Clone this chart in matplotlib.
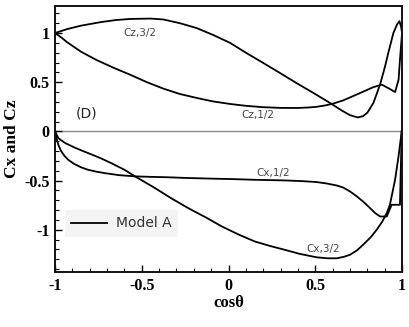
import matplotlib
matplotlib.use("Agg")
import matplotlib.pyplot as plt
from matplotlib.ticker import MultipleLocator

# ---- data ----
cz32_x = [-1.0, -0.93, -0.85, -0.74, -0.65, -0.568, -0.45, -0.376, -0.28, -0.183, -0.088, 0.009, 0.10, 0.20, 0.30, 0.393, 0.49, 0.585, 0.65, 0.70, 0.745, 0.775, 0.80, 0.835, 0.873, 0.902, 0.921, 0.95, 0.972, 0.985, 0.995, 1.0]
cz32_y = [1.0, 1.04, 1.075, 1.11, 1.132, 1.143, 1.147, 1.138, 1.10, 1.05, 0.98, 0.90, 0.80, 0.696, 0.59, 0.49, 0.39, 0.289, 0.215, 0.165, 0.142, 0.155, 0.19, 0.289, 0.475, 0.66, 0.80, 1.0, 1.09, 1.12, 1.06, 1.0]

cz12_x = [-1.0, -0.96, -0.933, -0.85, -0.76, -0.66, -0.568, -0.47, -0.376, -0.28, -0.183, -0.09, 0.009, 0.10, 0.20, 0.30, 0.393, 0.46, 0.508, 0.56, 0.604, 0.66, 0.70, 0.758, 0.835, 0.883, 0.921, 0.96, 0.98, 0.988, 1.0]
cz12_y = [1.0, 0.95, 0.91, 0.81, 0.725, 0.645, 0.577, 0.50, 0.435, 0.38, 0.34, 0.305, 0.279, 0.26, 0.246, 0.239, 0.238, 0.243, 0.25, 0.265, 0.283, 0.315, 0.345, 0.39, 0.45, 0.475, 0.44, 0.40, 0.526, 0.73, 1.0]

cx12_x = [-1.0, -0.99, -0.98, -0.965, -0.945, -0.923, -0.89, -0.85, -0.81, -0.76, -0.71, -0.63, -0.539, -0.45, -0.355, -0.232, -0.10, 0.026, 0.153, 0.316, 0.42, 0.508, 0.567, 0.624, 0.66, 0.70, 0.739, 0.78, 0.816, 0.845, 0.873, 0.912, 0.94, 0.988, 0.998]
cx12_y = [0.0, -0.08, -0.14, -0.2, -0.25, -0.29, -0.33, -0.365, -0.39, -0.41, -0.425, -0.445, -0.457, -0.462, -0.466, -0.474, -0.48, -0.485, -0.492, -0.498, -0.505, -0.515, -0.53, -0.55, -0.57, -0.61, -0.66, -0.72, -0.78, -0.83, -0.865, -0.865, -0.746, -0.746, 0.0]

cx32_x = [-1.0, -0.98, -0.942, -0.88, -0.81, -0.74, -0.673, -0.60, -0.539, -0.424, -0.33, -0.232, -0.13, -0.039, 0.06, 0.153, 0.24, 0.316, 0.41, 0.508, 0.57, 0.624, 0.665, 0.70, 0.74, 0.777, 0.82, 0.854, 0.885, 0.912, 0.93, 0.96, 0.98, 0.998]
cx32_y = [0.0, -0.07, -0.118, -0.17, -0.22, -0.27, -0.325, -0.39, -0.457, -0.576, -0.68, -0.78, -0.875, -0.966, -1.05, -1.12, -1.165, -1.20, -1.245, -1.28, -1.29, -1.29, -1.275, -1.254, -1.21, -1.15, -1.075, -1.0, -0.92, -0.83, -0.746, -0.49, -0.25, 0.0]

curve_labels = ["Cz,3/2", "Cz,1/2", "Cx,1/2", "Cx,3/2"]
label_x = [-0.51, 0.17, 0.257, 0.545]
label_y = [1.0, 0.17, -0.42, -1.197]

xticks = [-1, -0.5, 0, 0.5, 1]
yticks = [-1, -0.5, 0, 0.5, 1]
xtick_labels = ["-1", "-0.5", "0", "0.5", "1"]
ytick_labels = ["-1", "-0.5", "0", "0.5", "1"]

fig = plt.figure(figsize=(4.09, 3.27), dpi=100)
ax = fig.add_axes([0.1345, 0.168, 0.983 - 0.1345, 0.9817 - 0.168])

ax.axhline(0, color="#8c8c8c", lw=1.0, zorder=1)
lw = 1.3
line, = ax.plot(cz32_x, cz32_y, color="black", lw=lw, label="Model A")
ax.plot(cz12_x, cz12_y, color="black", lw=lw)
ax.plot(cx12_x, cx12_y, color="black", lw=lw)
ax.plot(cx32_x, cx32_y, color="black", lw=lw)

for t, x, y in zip(curve_labels, label_x, label_y):
    ax.text(x, y, t, fontsize=7.5, color="#444444", ha="center", va="center",
            family="DejaVu Sans")
ax.text(-0.816, 0.187, "(D)", fontsize=10, color="#222222", ha="center", va="center",
        family="DejaVu Sans")

ax.set_xlim(-1, 1)
ax.set_ylim(-1.43, 1.275)
ax.set_xticks(xticks)
ax.set_xticklabels(xtick_labels)
ax.set_yticks(yticks)
ax.set_yticklabels(ytick_labels)
ax.xaxis.set_minor_locator(MultipleLocator(0.1))
ax.yaxis.set_minor_locator(MultipleLocator(0.1))
ax.tick_params(which="major", direction="in", length=5, width=1.0, top=False, right=False, pad=4)
ax.tick_params(which="minor", direction="in", length=3, width=0.8, top=False, right=False)
for lab in ax.get_xticklabels() + ax.get_yticklabels():
    lab.set_family("Liberation Serif")
    lab.set_fontweight("bold")
    lab.set_fontsize(11.5)
for s in ax.spines.values():
    s.set_linewidth(1.4)
    s.set_color("#111111")

ax.set_xlabel("cosθ", family="Liberation Serif", fontweight="bold", fontsize=12, labelpad=1)
ax.set_ylabel("Cx and Cz", family="Liberation Serif", fontweight="bold", fontsize=12.5, labelpad=3)

leg = ax.legend(handles=[line], loc="lower left", bbox_to_anchor=(0.029, 0.133),
                borderaxespad=0, frameon=True, fancybox=False, handlelength=2.6,
                handletextpad=0.6, borderpad=0.45,
                prop={"family": "DejaVu Sans", "size": 10})
leg.get_frame().set_facecolor("#f2f2f2")
leg.get_frame().set_edgecolor("none")
for t in leg.get_texts():
    t.set_color("#333333")

fig.savefig("out.png", dpi=100)
